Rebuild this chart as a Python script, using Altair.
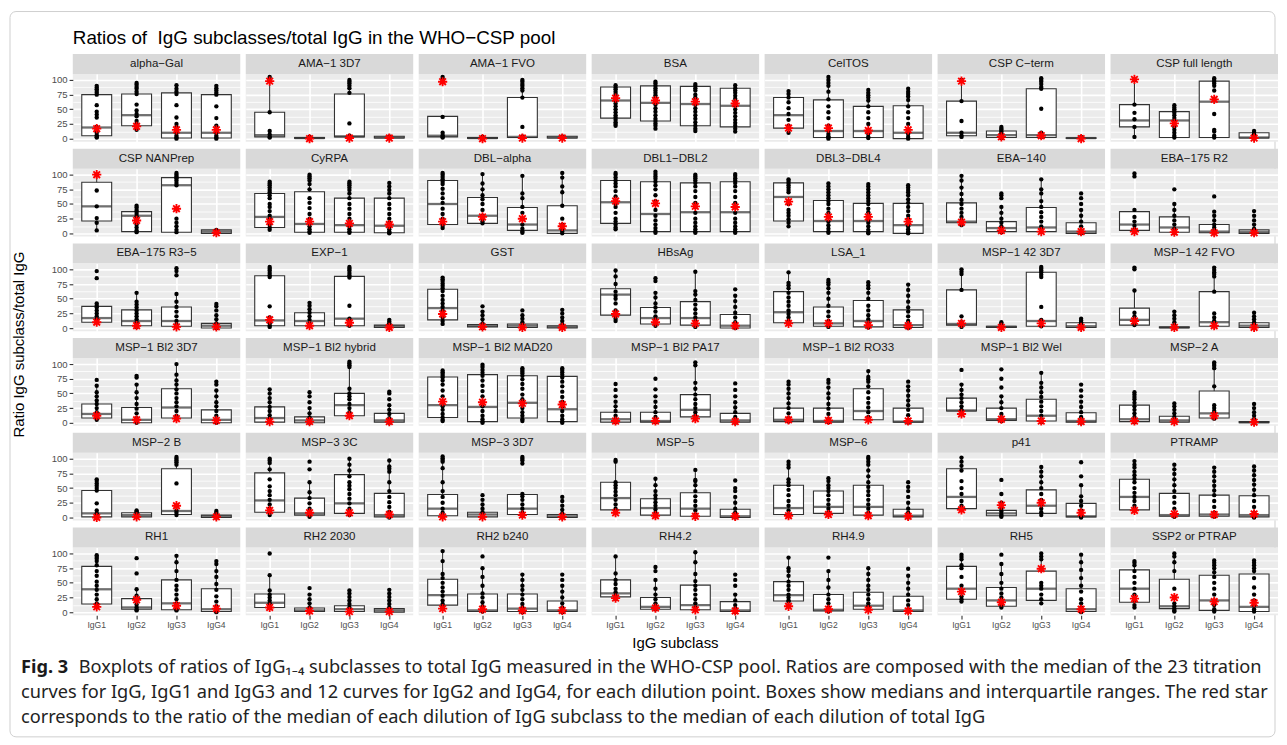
import altair as alt
import pandas as pd

M = "\u2212"
ANTIGENS = ["alpha-Gal", "AMA-1 3D7", "AMA-1 FVO", "BSA", "CelTOS", "CSP C-term", "CSP full length",
            "CSP NANPrep", "CyRPA", "DBL-alpha", "DBL1-DBL2", "DBL3-DBL4", "EBA-140", "EBA-175 R2",
            "EBA-175 R3-5", "EXP-1", "GST", "HBsAg", "LSA_1", "MSP-1 42 3D7", "MSP-1 42 FVO",
            "MSP-1 Bl2 3D7", "MSP-1 Bl2 hybrid", "MSP-1 Bl2 MAD20", "MSP-1 Bl2 PA17", "MSP-1 Bl2 RO33",
            "MSP-1 Bl2 Wel", "MSP-2 A",
            "MSP-2 B", "MSP-3 3C", "MSP-3 3D7", "MSP-5", "MSP-6", "p41", "PTRAMP",
            "RH1", "RH2 2030", "RH2 b240", "RH4.2", "RH4.9", "RH5", "SSP2 or PTRAP"]
ANTIGENS = [a.replace("-", M) for a in ANTIGENS]
SUBCLASSES = ["IgG1", "IgG2", "IgG3", "IgG4"]

# box statistics per antigen: (lower whisker, q1, median, q3, upper whisker) for IgG1..IgG4
BOX = [
    [(2, 5, 19, 75, 90), (14, 22, 40, 76, 95), (0, 1, 10, 78, 91), (0, 1, 10, 75, 90)],
    [(2, 3, 6, 45, 105), (0, 0.5, 1, 2, 3), (1, 3, 4, 76, 100), (1, 1, 2, 4, 4)],
    [(2, 3, 5, 38, 38), (0, 0.5, 1, 2, 3), (2, 2, 3, 70, 100), (1, 1, 2, 4, 4)],
    [(22, 35, 65, 88, 91), (17, 30, 61, 90, 97), (13, 22, 59, 89, 93), (12, 20, 56, 86, 91)],
    [(10, 18, 40, 70, 81), (0, 2, 13, 66, 105), (1, 2, 13, 55, 83), (0, 0, 10, 56, 85)],
    [(3, 5, 10, 64, 100), (1, 2, 6, 13, 20), (2, 2, 6, 85, 103), (0, 0.5, 1, 1.5, 3)],
    [(3, 20, 31, 58, 100), (2, 2, 31, 46, 57), (2, 2, 63, 98, 103), (0, 1, 2, 10, 13)],
    [(5, 21, 46, 87, 100), (2, 3, 30, 37, 47), (2, 2, 82, 95, 103), (0, 0, 3, 6, 7)],
    [(6, 10, 28, 68, 88), (1, 2, 16, 71, 100), (1, 2, 14, 60, 88), (0, 1, 13, 60, 86)],
    [(9, 15, 50, 90, 103), (17, 17, 30, 61, 101), (1, 5, 15, 44, 98), (0, 0, 5, 47, 103)],
    [(7, 17, 53, 90, 103), (1, 3, 33, 88, 105), (1, 3, 36, 86, 100), (1, 3, 36, 88, 101)],
    [(12, 21, 62, 86, 92), (1, 3, 21, 56, 85), (0, 3, 21, 51, 84), (0, 0, 14, 51, 82)],
    [(14, 18, 20, 52, 98), (2, 3, 9, 20, 45), (3, 3, 10, 44, 92), (0, 0, 3, 18, 40)],
    [(3, 5, 15, 37, 40), (1, 2, 10, 28, 50), (0, 1, 3, 15, 30), (0, 0, 2, 6, 15)],
    [(10, 10, 17, 37, 42), (2, 4, 12, 31, 60), (2, 3, 12, 36, 58), (0, 0, 4, 8, 15)],
    [(2, 4, 13, 89, 104), (4, 4, 12, 26, 43), (4, 4, 16, 88, 104), (0, 1, 3, 5, 11)],
    [(7, 14, 34, 66, 86), (0, 2, 4, 6, 12), (0, 1, 4, 7, 14), (0, 0, 2, 4, 8)],
    [(12, 22, 57, 67, 98), (4, 7, 17, 35, 60), (2, 5, 17, 45, 96), (0, 0, 4, 23, 55)],
    [(8, 9, 27, 62, 95), (2, 3, 8, 36, 82), (1, 2, 12, 47, 78), (0, 1, 5, 31, 74)],
    [(2, 5, 7, 65, 100), (1, 1, 2, 3, 10), (3, 3, 12, 95, 104), (1, 1, 3, 9, 16)],
    [(5, 5, 14, 34, 64), (0, 0.5, 1, 2, 3), (3, 3, 10, 62, 103), (1, 1, 4, 9, 20)],
    [(5, 8, 15, 32, 63), (0, 0, 5, 26, 65), (8, 8, 26, 58, 100), (0, 0, 5, 22, 55)],
    [(1, 1, 8, 27, 57), (0, 0, 4, 10, 25), (12, 12, 30, 50, 104), (0, 1, 4, 16, 30)],
    [(3, 9, 30, 78, 89), (0, 2, 27, 82, 99), (3, 8, 34, 80, 93), (0, 2, 23, 79, 93)],
    [(1, 1, 6, 18, 36), (1, 1, 3, 18, 36), (8, 10, 22, 48, 103), (0, 1, 4, 16, 35)],
    [(2, 2, 5, 25, 58), (1, 1, 3, 25, 60), (5, 5, 20, 58, 88), (0, 1, 2, 25, 62)],
    [(20, 20, 21, 42, 65), (3, 4, 6, 25, 45), (1, 3, 12, 40, 85), (0, 1, 3, 17, 36)],
    [(1, 2, 6, 30, 52), (1, 1, 4, 11, 22), (7, 8, 16, 54, 103), (0, 0, 1, 2, 3)],
    [(0, 1, 7, 46, 65), (1, 1, 4, 8, 12), (4, 5, 11, 83, 103), (0, 0, 2, 4, 11)],
    [(4, 9, 29, 76, 100), (1, 4, 7, 33, 60), (4, 7, 24, 73, 100), (0, 1, 4, 41, 97)],
    [(1, 3, 15, 39, 104), (1, 1, 5, 9, 22), (3, 5, 15, 39, 40), (0, 0, 2, 5, 13)],
    [(9, 13, 33, 60, 98), (3, 4, 16, 32, 66), (1, 2, 15, 42, 81), (0, 0, 2, 14, 35)],
    [(3, 5, 16, 55, 95), (4, 7, 18, 45, 67), (3, 4, 18, 55, 103), (0, 1, 3, 14, 25)],
    [(13, 15, 35, 83, 102), (1, 3, 7, 12, 25), (4, 7, 20, 47, 86), (0, 1, 2, 24, 55)],
    [(12, 13, 35, 65, 96), (1, 2, 4, 41, 90), (1, 2, 5, 38, 85), (0, 1, 4, 37, 87)],
    [(9, 14, 39, 78, 97), (3, 5, 8, 23, 39), (3, 4, 15, 55, 96), (0, 1, 5, 40, 87)],
    [(8, 8, 16, 31, 63), (1, 1, 3, 7, 15), (1, 1, 5, 11, 26), (0, 0, 3, 6, 14)],
    [(8, 12, 29, 56, 104), (1, 1, 3, 31, 75), (0, 1, 6, 31, 64), (0, 1, 3, 19, 45)],
    [(23, 26, 32, 55, 95), (5, 5, 9, 25, 55), (4, 4, 12, 46, 102), (0, 1, 3, 18, 30)],
    [(18, 19, 29, 52, 93), (1, 2, 4, 30, 70), (5, 5, 11, 34, 75), (1, 1, 3, 27, 62)],
    [(18, 22, 40, 78, 98), (8, 10, 20, 42, 82), (15, 20, 40, 70, 100), (0, 1, 5, 40, 98)],
    [(8, 17, 40, 72, 87), (1, 6, 10, 56, 100), (1, 3, 20, 63, 88), (1, 1, 9, 65, 88)],
]

# red star: ratio of medians, IgG1..IgG4
STARS = [
    [17, 21, 15, 15], [98, 0, 1, 1], [97, 0, 1, 1], [69, 65, 63, 60], [18, 18, 14, 15],
    [98, 3, 5, 0], [101, 26, 67, 1], [100, 22, 42, 1], [20, 20, 17, 15], [20, 28, 25, 12],
    [55, 51, 46, 45], [54, 28, 28, 20], [19, 5, 3, 3], [3, 2, 1, 1], [10, 4, 2, 2],
    [14, 4, 9, 1], [24, 2, 1, 1], [24, 10, 8, 4], [8, 8, 5, 4], [8, 1, 8, 1],
    [12, 1, 4, 1], [12, 5, 7, 4], [2, 2, 12, 2], [36, 35, 33, 31], [3, 3, 7, 2],
    [5, 4, 5, 3], [15, 6, 3, 2], [3, 2, 12, 1], [0, 1, 20, 1], [12, 8, 8, 5],
    [1, 1, 4, 1], [8, 3, 2, 2], [3, 5, 3, 2], [13, 21, 25, 8], [12, 6, 5, 6],
    [9, 21, 11, 6], [8, 2, 1, 1], [6, 5, 3, 3], [24, 7, 4, 2], [10, 5, 4, 2],
    [35, 17, 74, 5], [23, 25, 18, 16],
]

PTS_IGG1 = [
    [90, 87, 84, 81, 78, 75, 57, 46, 41, 36, 20, 15, 10, 6, 3, 2],
    [105, 99, 45, 13, 7, 3, 2],
    [105, 101, 37, 10, 6, 3, 2],
    [91, 87, 84, 80, 76, 72, 68, 65, 60, 55, 50, 45, 40, 36, 32, 28, 25, 22],
    [81, 76, 70, 62, 52, 42, 32, 22, 18, 10],
    [100, 64, 30, 10, 5, 3],
    [100, 58, 44, 33, 20, 3],
    [100, 73, 46, 26, 18, 5],
    [88, 85, 82, 78, 74, 70, 65, 60, 50, 45, 38, 30, 25, 20, 15, 10, 6],
    [103, 100, 96, 92, 88, 84, 76, 68, 60, 52, 42, 33, 25, 18, 13, 9],
    [103, 100, 95, 90, 85, 80, 72, 63, 55, 50, 45, 35, 25, 20, 15, 10, 7],
    [92, 89, 86, 82, 78, 74, 70, 50, 40, 35, 30, 24, 18, 12],
    [98, 90, 78, 67, 57, 50, 42, 35, 28, 22, 18, 14],
    [102, 97, 40, 28, 20, 13, 7, 3],
    [97, 85, 42, 38, 35, 30, 25, 20, 15, 10],
    [104, 101, 98, 94, 90, 87, 37, 18, 12, 8, 4, 2],
    [86, 83, 80, 76, 72, 68, 63, 55, 48, 42, 36, 30, 24, 18, 12, 7],
    [98, 88, 75, 62, 55, 50, 42, 30, 22, 16, 12],
    [95, 77, 73, 68, 60, 52, 45, 38, 30, 24, 18, 12, 8],
    [100, 96, 92, 65, 20, 10, 5, 2],
    [103, 100, 64, 26, 20, 14, 9, 5],
    [73, 63, 52, 45, 38, 32, 25, 18, 12, 8, 5],
    [57, 50, 42, 35, 27, 20, 13, 7, 3, 1],
    [89, 86, 83, 80, 77, 72, 65, 55, 45, 36, 28, 22, 15, 9, 5, 3],
    [66, 56, 45, 36, 28, 20, 12, 6, 2, 1],
    [70, 65, 58, 50, 42, 33, 25, 16, 8, 3, 2],
    [90, 65, 56, 48, 42, 35, 28, 22, 20],
    [52, 48, 44, 40, 34, 28, 22, 16, 10, 5, 2, 1],
    [65, 62, 58, 54, 50, 46, 24, 12, 7, 3, 0],
    [100, 97, 93, 82, 65, 53, 45, 38, 30, 22, 15, 9, 4],
    [104, 101, 98, 95, 84, 60, 45, 35, 25, 15, 8, 3, 1],
    [98, 95, 60, 55, 50, 44, 38, 30, 22, 15, 9],
    [95, 90, 85, 65, 60, 55, 47, 38, 28, 20, 12, 5, 3],
    [102, 95, 88, 80, 62, 50, 40, 28, 20, 14, 13],
    [96, 90, 85, 78, 72, 66, 60, 50, 42, 35, 28, 20, 14, 12],
    [97, 94, 91, 87, 80, 70, 62, 52, 45, 38, 30, 22, 15, 9],
    [100, 63, 37, 30, 25, 20, 15, 10, 8],
    [104, 87, 65, 58, 50, 42, 35, 28, 20, 14, 8],
    [95, 66, 55, 48, 40, 34, 28, 23],
    [93, 75, 70, 62, 52, 45, 38, 30, 25, 20, 18],
    [98, 94, 90, 80, 75, 60, 45, 35, 27, 22, 18],
    [87, 84, 80, 70, 60, 50, 40, 30, 20, 12, 8],
]

PTS_IGG2 = [
    [95, 92, 88, 85, 80, 76, 58, 48, 42, 38, 30, 25, 20, 15],
    [3, 2, 1, 0.5, 0],
    [3, 2, 1, 0.5, 0],
    [97, 94, 90, 86, 82, 78, 74, 70, 66, 62, 58, 52, 46, 40, 34, 30, 26, 22, 17],
    [105, 100, 95, 90, 80, 67, 55, 45, 35, 22, 14, 8, 4, 2, 0],
    [20, 17, 15, 12, 9, 6, 3, 1],
    [57, 53, 50, 47, 44, 40, 35, 30, 25, 20, 15, 10, 5, 2],
    [47, 44, 40, 37, 33, 29, 25, 20, 15, 10, 5, 2],
    [100, 97, 94, 90, 84, 75, 60, 52, 43, 33, 25, 18, 12, 7, 3, 1],
    [101, 85, 75, 65, 58, 50, 40, 30, 25, 20, 17],
    [105, 101, 97, 93, 88, 82, 75, 65, 55, 50, 40, 30, 22, 15, 9, 4, 1],
    [85, 80, 75, 70, 65, 60, 55, 50, 42, 35, 28, 20, 14, 8, 3, 1],
    [68, 65, 60, 45, 35, 25, 18, 12, 6, 2],
    [75, 50, 40, 30, 22, 15, 8, 3, 1],
    [60, 45, 40, 35, 30, 25, 20, 15, 10, 5, 2],
    [43, 38, 32, 26, 20, 14, 8, 4],
    [37, 28, 22, 15, 8, 4, 2, 0],
    [85, 80, 60, 52, 42, 35, 28, 20, 14, 8, 4],
    [82, 78, 74, 68, 60, 50, 38, 28, 20, 12, 6, 2],
    [10, 7, 5, 3, 1],
    [28, 22, 16, 10, 5, 1],
    [80, 77, 65, 52, 42, 32, 24, 16, 8, 3, 0],
    [52, 45, 35, 25, 16, 9, 4, 1, 0],
    [99, 95, 90, 85, 80, 72, 63, 54, 45, 36, 28, 20, 12, 6, 2, 0],
    [75, 57, 45, 36, 27, 18, 10, 4, 1],
    [73, 68, 60, 50, 42, 32, 24, 15, 6, 1],
    [91, 75, 60, 45, 35, 25, 15, 8, 3],
    [33, 28, 22, 16, 10, 5, 1],
    [12, 10, 8, 5, 2, 1],
    [95, 82, 60, 43, 33, 24, 15, 8, 4, 1],
    [38, 30, 22, 15, 9, 5, 1],
    [66, 55, 45, 38, 32, 26, 20, 14, 8, 3],
    [67, 62, 55, 50, 45, 38, 30, 22, 15, 9, 4],
    [64, 40, 25, 15, 10, 6, 3, 1],
    [90, 82, 74, 65, 55, 45, 35, 25, 15, 6, 2, 1],
    [92, 66, 39, 28, 20, 13, 8, 4, 3],
    [41, 30, 22, 15, 8, 3, 1],
    [95, 75, 60, 45, 32, 25, 17, 10, 4, 1],
    [77, 70, 55, 40, 30, 22, 15, 9, 5],
    [93, 70, 55, 42, 30, 22, 15, 8, 3, 1],
    [98, 82, 65, 50, 40, 32, 25, 18, 12, 8],
    [100, 95, 85, 70, 40, 25, 15, 10, 6, 3, 1],
]

PTS_IGG3 = [
    [91, 85, 80, 76, 57, 36, 25, 20, 15, 10, 5, 2, 0],
    [100, 97, 94, 90, 86, 78, 26, 5, 3, 2, 1],
    [100, 97, 93, 90, 86, 82, 70, 20, 4, 2],
    [93, 90, 86, 82, 75, 70, 65, 58, 52, 46, 40, 34, 28, 22, 17, 13],
    [83, 78, 74, 70, 65, 55, 45, 35, 25, 15, 8, 3, 1],
    [103, 100, 97, 93, 88, 85, 51, 10, 6, 3],
    [103, 100, 97, 94, 90, 82, 42, 15, 12, 5, 2],
    [103, 100, 97, 94, 90, 86, 82, 25, 18, 12, 6, 2],
    [88, 85, 82, 78, 74, 68, 60, 50, 42, 33, 25, 18, 12, 7, 3, 1],
    [98, 68, 60, 45, 35, 25, 15, 8, 3, 1],
    [100, 97, 94, 90, 86, 80, 72, 62, 52, 45, 35, 25, 18, 12, 7, 3, 1],
    [84, 80, 75, 70, 65, 60, 55, 50, 42, 36, 30, 24, 18, 12, 6, 2, 0],
    [92, 75, 68, 55, 45, 36, 28, 20, 12, 6, 3],
    [63, 37, 30, 22, 15, 10, 5, 2, 0],
    [102, 97, 90, 58, 45, 36, 28, 20, 12, 6, 2],
    [104, 101, 98, 94, 90, 86, 38, 16, 10, 5, 4],
    [30, 22, 16, 10, 5, 1, 0],
    [96, 63, 57, 48, 40, 32, 25, 18, 12, 6, 2],
    [78, 73, 68, 60, 50, 38, 30, 22, 15, 8, 3, 1],
    [104, 101, 98, 95, 91, 87, 36, 14, 8, 3],
    [103, 99, 95, 92, 88, 62, 25, 18, 12, 6, 3],
    [100, 82, 72, 65, 57, 50, 42, 35, 28, 20, 12, 8],
    [104, 101, 98, 95, 58, 50, 45, 40, 32, 25, 18, 12],
    [93, 90, 87, 84, 80, 74, 66, 58, 48, 40, 32, 25, 18, 12, 6, 3],
    [103, 98, 68, 58, 48, 40, 32, 25, 18, 12, 8],
    [88, 78, 74, 70, 62, 52, 42, 34, 26, 18, 10, 5],
    [85, 68, 60, 52, 44, 36, 28, 20, 12, 5, 1],
    [103, 100, 97, 93, 62, 30, 25, 20, 15, 10, 7],
    [103, 100, 97, 94, 90, 58, 20, 12, 8, 4],
    [100, 90, 80, 70, 60, 54, 48, 40, 32, 24, 15, 8, 4],
    [103, 100, 97, 92, 40, 36, 30, 22, 15, 8, 3],
    [81, 64, 62, 55, 45, 36, 28, 20, 12, 5, 1],
    [103, 100, 95, 90, 80, 70, 60, 52, 45, 38, 30, 22, 15, 8, 3],
    [86, 78, 70, 60, 50, 40, 30, 22, 15, 9, 4],
    [85, 78, 70, 62, 54, 46, 38, 28, 18, 8, 2, 1],
    [96, 85, 70, 55, 45, 38, 30, 22, 15, 8, 4, 3],
    [37, 32, 26, 20, 14, 8, 3, 1],
    [64, 55, 45, 38, 30, 22, 14, 8, 3, 0],
    [102, 85, 65, 53, 45, 38, 30, 22, 15, 8, 4],
    [75, 65, 55, 45, 38, 30, 22, 15, 10, 5],
    [100, 95, 90, 75, 50, 45, 40, 30, 22, 15],
    [88, 84, 80, 75, 68, 60, 50, 40, 30, 20, 12, 5, 1],
]

PTS_IGG4 = [
    [90, 86, 82, 78, 75, 55, 35, 22, 15, 10, 5, 2, 0],
    [4, 3, 2, 1],
    [4, 3, 2, 1],
    [91, 86, 82, 78, 73, 68, 62, 56, 50, 44, 38, 32, 27, 22, 17, 12],
    [85, 80, 76, 72, 66, 55, 45, 35, 25, 15, 8, 3, 0],
    [3, 2, 1, 0],
    [13, 10, 7, 4, 1],
    [6, 3, 1],
    [86, 80, 74, 68, 60, 50, 42, 33, 25, 18, 12, 7, 3, 1, 0],
    [103, 95, 80, 70, 47, 25, 15, 8, 3, 0],
    [101, 98, 94, 90, 86, 80, 72, 62, 52, 45, 35, 25, 18, 12, 7, 3, 1],
    [82, 78, 74, 70, 65, 58, 52, 45, 38, 30, 24, 18, 12, 7, 3, 1, 0],
    [68, 60, 50, 40, 30, 20, 12, 5, 2, 0],
    [38, 30, 22, 15, 8, 3, 0],
    [41, 37, 30, 22, 15, 8, 3, 0],
    [14, 11, 8, 5, 2, 0],
    [31, 25, 18, 12, 6, 2, 0],
    [66, 55, 46, 36, 26, 18, 10, 4, 1, 0],
    [74, 65, 55, 45, 35, 28, 20, 12, 6, 2, 0],
    [16, 13, 10, 7, 4, 1],
    [26, 20, 15, 10, 5, 1],
    [70, 65, 55, 45, 35, 28, 20, 12, 5, 1, 0],
    [53, 50, 40, 30, 22, 15, 8, 3, 0],
    [93, 90, 86, 82, 77, 70, 62, 53, 44, 36, 28, 20, 12, 6, 2, 0],
    [67, 56, 45, 35, 26, 18, 10, 4, 0],
    [70, 62, 55, 46, 38, 30, 22, 13, 5, 0],
    [65, 55, 45, 36, 27, 18, 10, 4, 0],
    [32, 25, 18, 12, 6, 1, 0],
    [11, 8, 5, 2, 0],
    [97, 87, 83, 78, 60, 45, 35, 26, 18, 10, 4, 0],
    [35, 28, 20, 13, 7, 2, 0],
    [63, 50, 45, 35, 25, 15, 8, 3, 0],
    [60, 52, 45, 35, 25, 15, 8, 3, 0],
    [94, 70, 55, 36, 28, 20, 12, 6, 1, 0],
    [87, 80, 72, 64, 56, 47, 38, 28, 18, 8, 1, 0],
    [87, 82, 70, 60, 48, 38, 27, 18, 10, 4, 0],
    [38, 32, 26, 20, 14, 8, 3, 0],
    [64, 55, 45, 35, 25, 15, 8, 3, 0],
    [64, 55, 45, 30, 20, 12, 6, 2, 0],
    [74, 62, 50, 40, 30, 20, 12, 5, 1],
    [98, 85, 72, 58, 45, 35, 22, 15, 8, 3, 0],
    [88, 84, 80, 75, 70, 58, 42, 30, 20, 12, 5, 1],
]

TITLE = "Ratios of\u00a0 IgG subclasses/total IgG in the WHO" + M + "CSP pool"
X_TITLE = "IgG subclass"
Y_TITLE = "Ratio IgG subclass/total IgG"
CAPTION_LABEL = "Fig. 3"
CAPTION_LINES = [
    "Boxplots of ratios of IgG\u2081\u208b\u2084 subclasses to total IgG measured in the WHO-CSP pool. Ratios are composed with the median of the 23 titration",
    "curves for IgG, IgG1 and IgG3 and 12 curves for IgG2 and IgG4, for each dilution point. Boxes show medians and interquartile ranges. The red star",
    "corresponds to the ratio of the median of each dilution of IgG subclass to the median of each dilution of total IgG",
]

# ---------------------------------------------------------------- data table
pts_by_sub = [PTS_IGG1, PTS_IGG2, PTS_IGG3, PTS_IGG4]
rows = []
for i, ag in enumerate(ANTIGENS):
    for j, sc in enumerate(SUBCLASSES):
        lo, q1, med, q3, hi = BOX[i][j]
        rows.append(dict(antigen=ag, sub=sc, kind="box", lo=lo, q1=q1, med=med, q3=q3, hi=hi,
                         star=STARS[i][j], value=None))
        for v in pts_by_sub[j][i]:
            rows.append(dict(antigen=ag, sub=sc, kind="pt", value=v))
df = pd.DataFrame(rows)

allv = [v for sub in pts_by_sub for lst in sub for v in lst] + [s for r in STARS for s in r]
vmin, vmax = min(allv), max(allv)
pad = 0.05 * (vmax - vmin)
YDOM = [vmin - pad, vmax + pad]

# ---------------------------------------------------------------- geometry / style
NCOL = 7
W, H, STRIP = 168, 68, 20
COLGAP, ROWGAP = 5.5, 27
STEP = W / 4.2
BOXW = 0.75 * STEP
FONT = "Liberation Sans"
CAPFONT = "Noto Sans"
CAPSIZE = 18.25
DARK = "#333333"
YTICKS = [0, 12.5, 25, 37.5, 50, 62.5, 75, 87.5, 100]
MAJOR = "datum.value % 25 === 0"
STAR_PATH = "M-1,0L1,0M0,-1L0,1M-0.72,-0.72L0.72,0.72M-0.72,0.72L0.72,-0.72"
nrow = (len(ANTIGENS) + NCOL - 1) // NCOL
GRID_W = NCOL * W + (NCOL - 1) * COLGAP
GRID_H = nrow * H + (nrow - 1) * ROWGAP

xscale = alt.Scale(type="band", paddingInner=0, paddingOuter=0.1)
yscale = alt.Scale(domain=YDOM, nice=False, zero=False)

is_box = alt.datum.kind == "box"
is_pt = alt.datum.kind == "pt"
one_row = (alt.datum.kind == "box") & (alt.datum.sub == SUBCLASSES[0])


def decorations(base):
    """Figure title, axis titles, caption and outer frame, placed relative to the first panel."""
    cap_y = GRID_H + 53  # centre of first caption line
    cap = dict(font=CAPFONT, fontSize=CAPSIZE, color="#222222", align="left", baseline="middle")
    out = [
        base.mark_rect(fillOpacity=0, stroke="#CFCFCF", strokeWidth=1, cornerRadius=6).encode(
            x=alt.value(-63), x2=alt.value(GRID_W - 3), y=alt.value(-62.6), y2=alt.value(GRID_H + 122)),
        base.mark_text(font=FONT, fontSize=18.9, color="black", align="left", baseline="middle").encode(
            x=alt.value(0), y=alt.value(-36), text=alt.value(TITLE)),
        base.mark_text(font=FONT, fontSize=15, color="black", angle=270, baseline="middle").encode(
            x=alt.value(-54), y=alt.value(GRID_H / 2), text=alt.value(Y_TITLE)),
        base.mark_text(font=FONT, fontSize=15, color="black", baseline="middle").encode(
            x=alt.value(GRID_W / 2), y=alt.value(GRID_H + 28), text=alt.value(X_TITLE)),
        base.mark_text(**{**cap, "fontWeight": "bold", "color": "#1A1A1A"}).encode(
            x=alt.value(-52), y=alt.value(cap_y), text=alt.value(CAPTION_LABEL)),
        base.mark_text(**cap).encode(x=alt.value(6), y=alt.value(cap_y), text=alt.value(CAPTION_LINES[0])),
        base.mark_text(**cap).encode(x=alt.value(-52), y=alt.value(cap_y + 25), text=alt.value(CAPTION_LINES[1])),
        base.mark_text(**cap).encode(x=alt.value(-52), y=alt.value(cap_y + 50), text=alt.value(CAPTION_LINES[2])),
    ]
    return [o.transform_filter(one_row) for o in out]


def make_panel(i):
    ag = ANTIGENS[i]
    r, c = divmod(i, NCOL)
    left = c == 0
    bottom = r == nrow - 1
    yaxis = alt.Axis(values=YTICKS, format="d", labelExpr=f"{MAJOR} ? datum.label : ''",
                     labels=left, ticks=left, grid=True, gridColor="white",
                     gridWidth={"condition": {"test": MAJOR, "value": 1.6}, "value": 0.8},
                     tickOpacity={"condition": {"test": MAJOR, "value": 1}, "value": 0},
                     domain=False, tickColor=DARK, tickSize=3.7, tickWidth=1.1,
                     labelFont=FONT, labelFontSize=9.6, labelColor="#4D4D4D", labelPadding=2)
    xaxis = alt.Axis(grid=True, gridColor="white", gridWidth=1.6, bandPosition=0.5, domain=False,
                     labels=bottom, ticks=bottom,
                     tickColor=DARK, tickSize=3.7, tickWidth=1.1, labelAngle=0,
                     labelFont=FONT, labelFontSize=8.6, labelColor="#4D4D4D", labelPadding=2)
    X = alt.X("sub:N", sort=SUBCLASSES, scale=xscale, axis=xaxis, title=None)

    def Y(field):
        return alt.Y(f"{field}:Q", scale=yscale, axis=yaxis, title=None)

    base = alt.Chart()
    layers = [
        base.mark_rect(color="#D9D9D9").encode(
            x=alt.value(0), x2=alt.value(W), y=alt.value(-STRIP), y2=alt.value(0)
        ).transform_filter(one_row),
        base.mark_text(font=FONT, fontSize=11.6, color="#1A1A1A", baseline="middle").encode(
            x=alt.value(W / 2), y=alt.value(-STRIP / 2), text="antigen:N"
        ).transform_filter(one_row),
        base.mark_rule(color=DARK, strokeWidth=1.1).encode(
            x=X, y=Y("lo"), y2="hi:Q").transform_filter(is_box),
        base.mark_bar(fill="white", stroke=DARK, strokeWidth=1.1, width=BOXW).encode(
            x=X, y=Y("q1"), y2="q3:Q").transform_filter(is_box),
        base.mark_tick(color=DARK, thickness=2.3, size=BOXW).encode(
            x=X, y=Y("med")).transform_filter(is_box),
        base.mark_circle(color="black", size=19, opacity=1).encode(
            x=X, y=Y("value")).transform_filter(is_pt),
        base.mark_point(shape=STAR_PATH, color="#FF0000", strokeWidth=1.9, size=85,
                        filled=False, opacity=1).encode(
            x=X, y=Y("star")).transform_filter(is_box),
    ]
    if i == 0:
        layers += decorations(base)
    return alt.layer(*layers, data=df).transform_filter(alt.datum.antigen == ag).properties(
        width=W, height=H, view=alt.ViewBackground(fill="#EBEBEB", stroke=None))


chart = alt.concat(*[make_panel(i) for i in range(len(ANTIGENS))], columns=NCOL,
                   spacing={"row": ROWGAP, "column": COLGAP}).properties(
    bounds="flush",
    padding={"left": 1, "top": 1, "right": 1, "bottom": 1},
).configure_view(stroke=None).configure(font=FONT)

chart.save("out.html", embed_options={"renderer": "svg", "actions": False})
